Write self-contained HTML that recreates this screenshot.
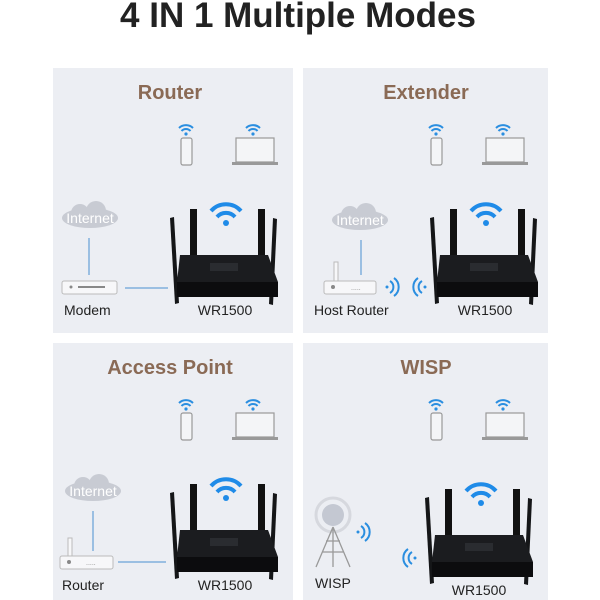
<!DOCTYPE html><html><head><style>body{margin:0;background:#fff}svg{display:block}</style></head><body>
<svg width="600" height="600" viewBox="0 0 600 600" font-family="Liberation Sans, sans-serif">
<defs>
<g id="wf"><path d="M-7,-2 A10,10 0 0 1 7,-2" stroke="#2a8ee0" stroke-width="2" fill="none"/><path d="M-4.5,1 A6,6 0 0 1 4.5,1" stroke="#2a8ee0" stroke-width="2" fill="none"/><circle cx="0" cy="4" r="1.6" fill="#2a8ee0"/></g>
<g id="bw"><path d="M-15,-3 A20,20 0 0 1 15,-3" stroke="#1f8be8" stroke-width="4" fill="none"/><path d="M-9,3 A12,12 0 0 1 9,3" stroke="#1f8be8" stroke-width="4" fill="none"/><circle cx="0" cy="9" r="3" fill="#1f8be8"/></g>
<g id="dev">
<use href="#wf" x="133" y="62"/><rect x="128" y="70" width="11" height="27" rx="2" fill="#f4f5f7" stroke="#999" stroke-width="1.2"/>
<use href="#wf" x="200" y="62"/><rect x="183" y="70" width="38" height="24" fill="#f4f5f7" stroke="#999" stroke-width="1.2"/><rect x="179" y="94" width="46" height="3" fill="#999"/>
</g>
<g id="rt">
<path d="M117,150 l4,-1 l5,86 l-4,1z" fill="#151618"/><path d="M220,150 l4,1 l-4,86 l-4,-1z" fill="#151618"/>
<rect x="137" y="141" width="7" height="85" fill="#111"/><rect x="205" y="141" width="7" height="85" fill="#111"/>
<path d="M127,187 L215,187 L225,214 L225,229 L124,229 L124,214Z" fill="#1b1c1f"/>
<path d="M124,214 L225,214 L225,229 L124,229Z" fill="#0c0c0e"/>
<rect x="157" y="195" width="28" height="8" fill="#2a2c30"/>
<use href="#bw" x="173" y="146"/>
</g>
<g id="cloud"><ellipse cx="0" cy="0" rx="28" ry="10" fill="#c8cbd3"/><circle cx="-10" cy="-5" r="9" fill="#c8cbd3"/><circle cx="6" cy="-7" r="10" fill="#c8cbd3"/><text x="0" y="5" font-size="14" fill="#fff" text-anchor="middle">Internet</text></g>
<g id="sr"><path d="M0,-6 A7,7 0 0 1 0,6 M4,-9 A11,11 0 0 1 4,9" stroke="#2a8ee0" stroke-width="2" fill="none"/><circle cx="-3" cy="0" r="1.5" fill="#2a8ee0"/></g>
<g id="sl"><path d="M0,-6 A7,7 0 0 0 0,6 M-4,-9 A11,11 0 0 0 -4,9" stroke="#2a8ee0" stroke-width="2" fill="none"/><circle cx="3" cy="0" r="1.5" fill="#2a8ee0"/></g>
</defs>
<text x="298" y="27" font-size="35" font-weight="bold" text-anchor="middle" fill="#222">4 IN 1 Multiple Modes</text>
<rect x="53" y="68" width="240" height="265" fill="#eceef3"/>
<rect x="303" y="68" width="245" height="265" fill="#eceef3"/>
<rect x="53" y="343" width="240" height="257" fill="#eceef3"/>
<rect x="303" y="343" width="245" height="257" fill="#eceef3"/>
<g font-size="20" font-weight="bold" fill="#8a6a55" text-anchor="middle">
<text x="170" y="99">Router</text><text x="426" y="99">Extender</text><text x="170" y="374">Access Point</text><text x="426" y="374">WISP</text></g>
<g font-size="14" fill="#222">
<text x="64" y="315">Modem</text><text x="225" y="315" text-anchor="middle">WR1500</text>
<text x="314" y="315">Host Router</text><text x="485" y="315" text-anchor="middle">WR1500</text>
<text x="62" y="590">Router</text><text x="225" y="590" text-anchor="middle">WR1500</text>
<text x="315" y="588">WISP</text><text x="479" y="595" text-anchor="middle">WR1500</text></g>
<use href="#dev" x="53" y="68"/><use href="#dev" x="303" y="68"/><use href="#dev" x="53" y="343"/><use href="#dev" x="303" y="343"/>
<use href="#rt" x="53" y="68"/><use href="#rt" x="313" y="68"/><use href="#rt" x="53" y="343"/><use href="#rt" x="308" y="348"/>
<!-- P1 -->
<use href="#cloud" x="90" y="218"/>
<line x1="89" y1="238" x2="89" y2="275" stroke="#4a90d0"/>
<rect x="62" y="281" width="55" height="13" rx="2" fill="#f7f7f9" stroke="#bbb"/><circle cx="71" cy="287" r="1.5" fill="#888"/><rect x="78" y="286" width="27" height="2" fill="#888"/>
<line x1="125" y1="288" x2="168" y2="288" stroke="#4a90d0"/>
<!-- P2 -->
<use href="#cloud" x="360" y="220"/>
<line x1="361" y1="240" x2="361" y2="275" stroke="#4a90d0"/>
<rect x="334" y="262" width="4" height="19" fill="#f7f7f9" stroke="#bbb"/>
<rect x="324" y="281" width="52" height="13" rx="2" fill="#f7f7f9" stroke="#bbb"/><circle cx="333" cy="287" r="2" fill="#888"/><text x="351" y="290" font-size="7" fill="#888">.....</text>
<use href="#sr" x="390" y="287"/><use href="#sl" x="422" y="287"/>
<!-- P3 -->
<use href="#cloud" x="93" y="491"/>
<line x1="93" y1="511" x2="93" y2="551" stroke="#4a90d0"/>
<rect x="68" y="538" width="4" height="18" fill="#f7f7f9" stroke="#bbb"/>
<rect x="60" y="556" width="53" height="13" rx="2" fill="#f7f7f9" stroke="#bbb"/><circle cx="69" cy="562" r="2" fill="#888"/><text x="86" y="565" font-size="7" fill="#888">.....</text>
<line x1="118" y1="562" x2="166" y2="562" stroke="#4a90d0"/>
<!-- P4 -->
<circle cx="333" cy="515" r="17" fill="none" stroke="#d6d8de" stroke-width="3"/><circle cx="333" cy="515" r="11" fill="#c4c8d2"/>
<path d="M333,527 L316,567 M333,527 L350,567 M333,527 L333,567 M322,552 L344,552 M326,541 L340,541" stroke="#999" stroke-width="1.3" fill="none"/>
<use href="#sr" x="361" y="532"/><use href="#sl" x="412" y="558"/>
</svg></body></html>
